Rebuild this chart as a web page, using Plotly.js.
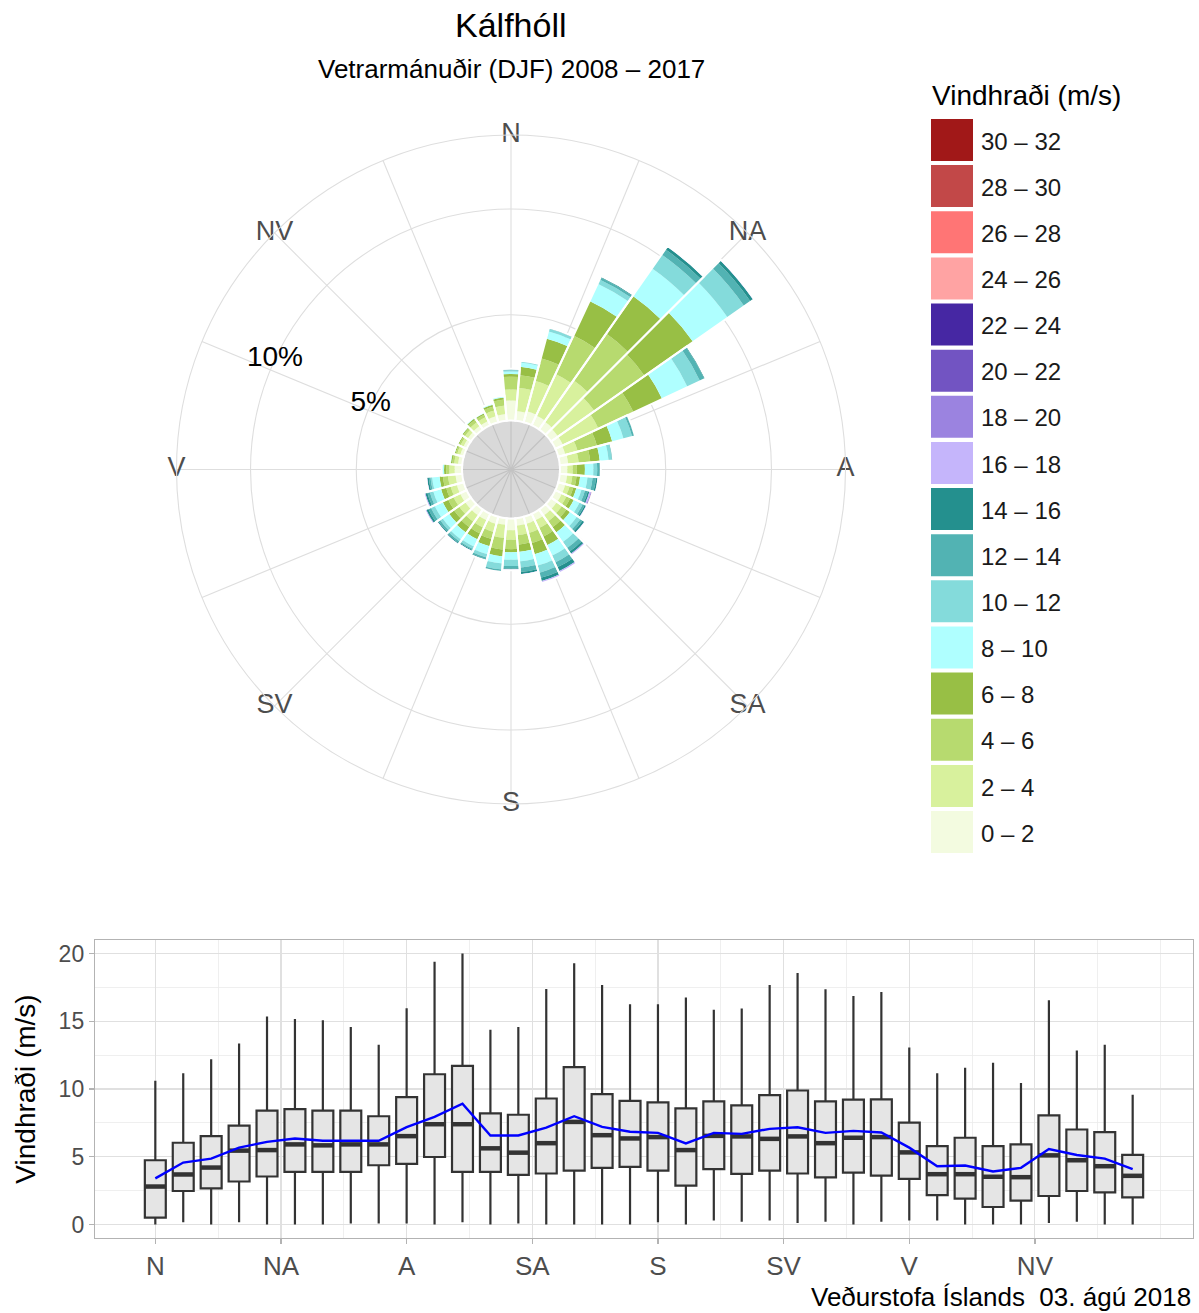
<!DOCTYPE html>
<html><head><meta charset="utf-8">
<script src="https://cdn.plot.ly/plotly-3.0.1.min.js"></script>
<style>html,body{margin:0;padding:0;background:#fff}#chart{width:1199px;height:1313px}</style>
</head><body><div id="chart"></div>
<script>
// ---------- data ----------
const directions = [0,10,20,30,40,50,60,70,80,90,100,110,120,130,140,150,160,170,180,190,200,210,220,230,240,250,260,270,280,290,300,310,320,330,340,350];
const compassLabels = ['N','NA','A','SA','S','SV','V','NV'];
const compassAngles = [0,45,90,135,180,225,270,315];
const speedClasses = ['0 – 2','2 – 4','4 – 6','6 – 8','8 – 10','10 – 12','12 – 14','14 – 16','16 – 18','18 – 20','20 – 22','22 – 24','24 – 26','26 – 28','28 – 30','30 – 32'];
const speedColors = ['#f3fbe0','#d8f19d','#b7da6f','#98bf45','#afffff','#84dbdb','#52b3b3','#24908e','#c5b5fb','#9b83e0','#7254c2','#4627a3','#ffa3a3','#ff7575','#c24848','#a11818'];

// frequency (%) per direction for each speed class
const freq0_2  = [0.95,0.46,0.54,0.50,0.45,0.40,0.40,0.35,0.40,0.35,0.35,0.35,0.35,0.35,0.35,0.35,0.35,0.35,0.55,0.31,0.35,0.35,0.35,0.35,0.35,0.35,0.32,0.35,0.20,0.18,0.18,0.20,0.22,0.22,0.30,0.32];
const freq2_4  = [0.52,1.10,1.49,2.16,2.39,2.10,1.85,0.60,0.50,0.25,0.25,0.22,0.25,0.30,0.35,0.40,0.45,0.45,0.45,0.63,0.40,0.38,0.38,0.35,0.35,0.30,0.36,0.25,0.18,0.15,0.15,0.17,0.22,0.22,0.28,0.40];
const freq4_6  = [0.60,0.60,1.10,2.01,2.69,2.90,1.83,0.95,0.55,0.20,0.20,0.18,0.20,0.27,0.35,0.45,0.50,0.45,0.45,0.55,0.35,0.32,0.32,0.30,0.28,0.22,0.24,0.15,0.10,0.08,0.08,0.10,0.14,0.13,0.20,0.28];
const freq6_8  = [0.13,0.40,0.97,1.80,2.18,2.80,1.49,0.75,0.45,0.38,0.17,0.15,0.18,0.20,0.30,0.45,0.55,0.35,0.15,0.32,0.35,0.30,0.30,0.28,0.28,0.25,0.16,0.10,0.06,0.05,0.05,0.05,0.07,0.06,0.08,0.10];
const freq8_10 = [0.12,0.20,0.35,0.91,1.59,2.00,1.33,0.55,0.42,0.40,0.35,0.25,0.30,0.40,0.55,0.55,0.55,0.45,0.35,0.34,0.40,0.38,0.40,0.38,0.42,0.38,0.35,0.08,0.04,0.03,0.03,0.04,0.05,0.05,0.06,0.06];
const freq10_12= [0.06,0.06,0.12,0.22,0.80,0.95,0.65,0.42,0.15,0.18,0.24,0.17,0.17,0.20,0.35,0.35,0.35,0.30,0.30,0.28,0.15,0.12,0.12,0.14,0.20,0.17,0.08,0.02,0.02,0.01,0.01,0.01,0.02,0.01,0.02,0.02];
const freq12_14= [0.03,0.03,0.04,0.10,0.30,0.37,0.23,0.10,0.05,0.10,0.16,0.14,0.10,0.12,0.20,0.25,0.25,0.20,0.12,0.08,0.08,0.06,0.08,0.10,0.14,0.12,0.08,0.01,0,0,0,0,0,0,0,0];
const freq14_16= [0.02,0,0.02,0.05,0.15,0.15,0.05,0.03,0.015,0.05,0.08,0.08,0.07,0.10,0.12,0.20,0.15,0.10,0.04,0.02,0.04,0.04,0.05,0.05,0.10,0.10,0.08,0,0,0,0,0,0,0,0,0];
const freq16_18= [0.02,0,0,0.02,0.04,0.05,0.02,0.01,0.005,0.02,0.04,0.07,0.06,0.06,0.09,0.10,0.10,0.05,0.04,0.02,0.03,0.05,0.05,0.05,0.08,0.08,0.05,0,0,0,0,0,0,0,0,0];
const freq18_20= [0,0,0,0,0,0,0,0,0,0,0,0.02,0,0,0,0,0,0,0,0,0,0,0,0,0,0,0,0,0,0,0,0,0,0,0,0];
const freq20_22= [0,0,0,0,0,0,0,0,0,0,0,0.01,0,0,0,0,0,0,0,0,0,0,0,0,0,0,0,0,0,0,0,0,0,0,0,0];
const freq22_24= [0,0,0,0,0,0,0,0,0,0,0,0.01,0,0,0,0,0,0,0,0,0,0,0,0,0,0,0,0,0,0,0,0,0,0,0,0];
const freq24_26= [0,0,0,0,0,0,0,0,0,0,0,0.01,0,0,0,0,0,0,0,0,0,0,0,0,0,0,0,0,0,0,0,0,0,0,0,0];
const freq26_28= [0,0,0,0,0,0,0,0,0,0,0,0.03,0,0,0,0,0,0,0,0,0,0,0,0,0,0,0,0,0,0,0,0,0,0,0,0];
const freq28_30= [0,0,0,0,0,0,0,0,0,0,0,0,0,0,0,0,0,0,0,0,0,0,0,0,0,0,0,0,0,0,0,0,0,0,0,0];
const freq30_32= [0,0,0,0,0,0,0,0,0,0,0,0,0,0,0,0,0,0,0,0,0,0,0,0,0,0,0,0,0,0,0,0,0,0,0,0];

const radialTicks = [5, 10];
const radialTickText = ['5%', '10%'];
const radialLabelAngle = 295;
const radialMax = 13.5;
const innerOffset = 2.317;   // size of the grey centre disc, in % units

// box plot statistics per direction (m/s)
const boxLower  = [0,0.17,0,0.17,0,0,0,0.07,0.07,0.07,0,0.17,0,0.07,0,0,0,0,0.17,0,0.29,0.2,0.29,0.1,0.2,0,0.2,0.29,0.29,0,0,0,0.1,0.2,0,0];
const boxQ1     = [0.51,2.47,2.66,3.17,3.54,3.88,3.88,3.88,4.37,4.47,4.98,3.88,3.88,3.66,3.76,3.98,4.18,4.25,3.98,2.86,4.08,3.74,3.98,3.76,3.47,3.83,3.61,3.37,2.17,1.9,1.29,1.76,2.1,2.47,2.37,2.0];
const boxMedian = [2.8,3.69,4.2,5.45,5.49,5.91,5.84,5.91,5.91,6.52,7.4,7.4,5.62,5.3,6.0,7.57,6.59,6.35,6.45,5.49,6.54,6.5,6.32,6.5,6.0,6.4,6.45,5.32,3.71,3.71,3.52,3.49,5.1,4.74,4.3,3.59];
const boxQ3     = [4.74,6.03,6.52,7.3,8.4,8.52,8.4,8.4,7.99,9.4,11.09,11.7,8.2,8.1,9.3,11.62,9.62,9.13,9.01,8.57,9.08,8.79,9.55,9.89,9.08,9.21,9.23,7.52,5.79,6.4,5.79,5.91,8.06,7.01,6.81,5.13];
const boxUpper  = [10.6,11.16,12.19,13.36,15.36,15.16,15.07,14.58,13.26,15.97,19.39,20.0,14.38,14.58,17.39,19.29,17.68,16.26,16.26,16.75,15.85,15.95,17.68,18.56,17.36,16.87,17.17,13.06,11.16,11.57,11.94,10.45,16.56,12.84,13.26,9.57];
const boxMean   = [3.4,4.57,4.86,5.67,6.1,6.35,6.18,6.2,6.18,7.18,7.94,8.91,6.57,6.57,7.15,7.99,7.2,6.84,6.76,5.98,6.76,6.69,7.06,7.18,6.76,6.91,6.79,5.67,4.3,4.35,3.91,4.18,5.57,5.13,4.86,4.08];
const boxTickVals = [0,45,90,135,180,225,270,315];
const boxYTicks = [0,5,10,15,20];

// ---------- build ----------
const classFreqs = [freq0_2,freq2_4,freq4_6,freq6_8,freq8_10,freq10_12,freq12_14,freq14_16,freq16_18,freq18_20,freq20_22,freq22_24,freq24_26,freq26_28,freq28_30,freq30_32];
const FONT = 'Liberation Sans, Arial, Helvetica, sans-serif';
const traces = [];

// grey centre disc
traces.push({
  type: 'barpolar', subplot: 'polar',
  theta: [90, 270], r: [innerOffset, innerOffset], base: [-innerOffset, -innerOffset],
  width: [180, 180],
  marker: {color: 'rgba(128,128,128,0.30)', line: {width: 0}},
  hoverinfo: 'skip', showlegend: false
});

const cum = directions.map(() => 0);
classFreqs.forEach((vals, k) => {
  traces.push({
    type: 'barpolar', subplot: 'polar',
    theta: directions, r: vals, base: cum.slice(), width: directions.map(() => 10),
    marker: {color: speedColors[k], line: {width: 0}},
    name: speedClasses[k], showlegend: false
  });
  vals.forEach((v, i) => { cum[i] += v; });
});
// white separation outlines between direction bars
traces.push({
  type: 'barpolar', subplot: 'polar',
  theta: directions, r: cum.slice(), base: directions.map(() => 0), width: directions.map(() => 10),
  marker: {color: 'rgba(0,0,0,0)', line: {width: 2, color: '#ffffff'}},
  hoverinfo: 'skip', showlegend: false
});
// compass labels
traces.push({
  type: 'scatterpolar', subplot: 'polar', mode: 'text',
  r: compassAngles.map(() => radialMax), theta: compassAngles, text: compassLabels,
  textfont: {family: FONT, size: 27, color: '#4d4d4d'}, cliponaxis: false,
  hoverinfo: 'skip', showlegend: false
});
// radial labels
traces.push({
  type: 'scatterpolar', subplot: 'polar', mode: 'text',
  r: radialTicks, theta: radialTicks.map(() => radialLabelAngle), text: radialTickText,
  textfont: {family: FONT, size: 28, color: '#000000'}, cliponaxis: false,
  hoverinfo: 'skip', showlegend: false
});

// box plot
traces.push({
  type: 'box', xaxis: 'x', yaxis: 'y',
  x: directions, q1: boxQ1, median: boxMedian, q3: boxQ3,
  lowerfence: boxLower, upperfence: boxUpper,
  width: 7.5, whiskerwidth: 0, boxpoints: false,
  fillcolor: '#e5e5e5', line: {color: '#333333', width: 2.2},
  showlegend: false, hoverinfo: 'skip'
});
traces.push({
  type: 'scatter', mode: 'markers', xaxis: 'x', yaxis: 'y',
  x: directions, y: boxMedian,
  marker: {symbol: 'line-ew', size: 15, line: {width: 4.5, color: '#333333'}},
  showlegend: false, hoverinfo: 'skip'
});
traces.push({
  type: 'scatter', mode: 'lines', xaxis: 'x', yaxis: 'y',
  x: directions, y: boxMean,
  line: {color: '#0000ff', width: 2.4},
  showlegend: false, hoverinfo: 'skip'
});

// custom legend
const legendRows = speedClasses.map((_, i) => i);
traces.push({
  type: 'scatter', mode: 'markers', xaxis: 'x2', yaxis: 'y2',
  x: legendRows.map(() => 21), y: legendRows,
  marker: {symbol: 'square', size: 42, color: speedColors, line: {width: 0}},
  showlegend: false, hoverinfo: 'skip', cliponaxis: false
});
traces.push({
  type: 'scatter', mode: 'text', xaxis: 'x2', yaxis: 'y2',
  x: legendRows.map(() => 50), y: legendRows.map(i => i - 0.08), text: speedClasses,
  textposition: 'middle right',
  textfont: {family: FONT, size: 24, color: '#1a1a1a'},
  showlegend: false, hoverinfo: 'skip', cliponaxis: false
});

const majorGrid = '#e0e0e0', minorGrid = '#ebebeb', borderCol = '#b3b3b3';
const layout = {
  width: 1199, height: 1313,
  margin: {l: 0, r: 0, t: 0, b: 0},
  paper_bgcolor: '#ffffff', plot_bgcolor: '#ffffff',
  font: {family: FONT, color: '#000000'},
  showlegend: false,
  polar: {
    domain: {x: [0.14721, 0.70517], y: [0.38766, 0.89718]},
    bgcolor: '#ffffff',
    barmode: 'overlay',
    radialaxis: {range: [-innerOffset, radialMax], tickmode: 'array', tickvals: radialTicks,
      showticklabels: false, ticks: '', showline: false, gridcolor: '#dedede', gridwidth: 1.1},
    angularaxis: {rotation: 90, direction: 'clockwise', tickmode: 'array',
      tickvals: [0,22.5,45,67.5,90,112.5,135,157.5,180,202.5,225,247.5,270,292.5,315,337.5],
      showticklabels: false, ticks: '', gridcolor: '#dedede', gridwidth: 1.1,
      showline: true, linecolor: '#dedede', linewidth: 1.1}
  },
  xaxis: {
    domain: [0.07923, 0.99499], anchor: 'y', range: [-21.6, 371.6],
    tickmode: 'array', tickvals: boxTickVals, ticktext: compassLabels,
    tickfont: {family: FONT, size: 26, color: '#4d4d4d'},
    ticks: 'outside', ticklen: 5, tickwidth: 1.2, tickcolor: borderCol,
    showgrid: true, gridcolor: majorGrid, gridwidth: 1.1,
    minor: {tickmode: 'linear', tick0: -22.5, dtick: 22.5, showgrid: true, gridcolor: minorGrid, gridwidth: 0.8, ticks: ''},
    showline: true, mirror: true, linecolor: borderCol, linewidth: 1.2, zeroline: false, fixedrange: true
  },
  yaxis: {
    domain: [0.05712, 0.28408], anchor: 'x', range: [-1, 21],
    tickmode: 'array', tickvals: boxYTicks,
    tickfont: {family: FONT, size: 23, color: '#4d4d4d'},
    ticks: 'outside', ticklen: 5, tickwidth: 1.2, tickcolor: borderCol,
    showgrid: true, gridcolor: majorGrid, gridwidth: 1.1,
    minor: {tickmode: 'linear', tick0: 2.5, dtick: 5, showgrid: true, gridcolor: minorGrid, gridwidth: 0.8, ticks: ''},
    showline: true, mirror: true, linecolor: borderCol, linewidth: 1.2, zeroline: false, fixedrange: true,
    title: {text: 'Vindhraði (m/s)', font: {family: FONT, size: 28, color: '#000000'}, standoff: 14}
  },
  xaxis2: {domain: [0.77648, 1], anchor: 'y2', range: [0, 268], visible: false, fixedrange: true},
  yaxis2: {domain: [0.34874, 0.91097], anchor: 'x2', range: [-0.5, 15.5], visible: false, fixedrange: true},
  annotations: [
    {text: 'Kálfhóll', xref: 'paper', yref: 'paper', x: 0.4262, y: 0.981, xanchor: 'center', yanchor: 'middle', showarrow: false, font: {family: FONT, size: 34, color: '#000'}},
    {text: 'Vetrarmánuðir (DJF) 2008 – 2017', xref: 'paper', yref: 'paper', x: 0.4262, y: 0.9474, xanchor: 'center', yanchor: 'middle', showarrow: false, font: {family: FONT, size: 26, color: '#000'}},
    {text: 'Vindhraði (m/s)', xref: 'paper', yref: 'paper', x: 0.7757, y: 0.9269, xanchor: 'left', yanchor: 'middle', showarrow: false, font: {family: FONT, size: 28, color: '#000'}},
    {text: 'Veðurstofa Íslands \u00a003. ágú 2018', xref: 'paper', yref: 'paper', x: 0.995, y: 0.0122, xanchor: 'right', yanchor: 'middle', showarrow: false, font: {family: FONT, size: 26, color: '#000'}}
  ]
};

Plotly.newPlot('chart', traces, layout, {staticPlot: true, displayModeBar: false});
</script>
</body></html>
